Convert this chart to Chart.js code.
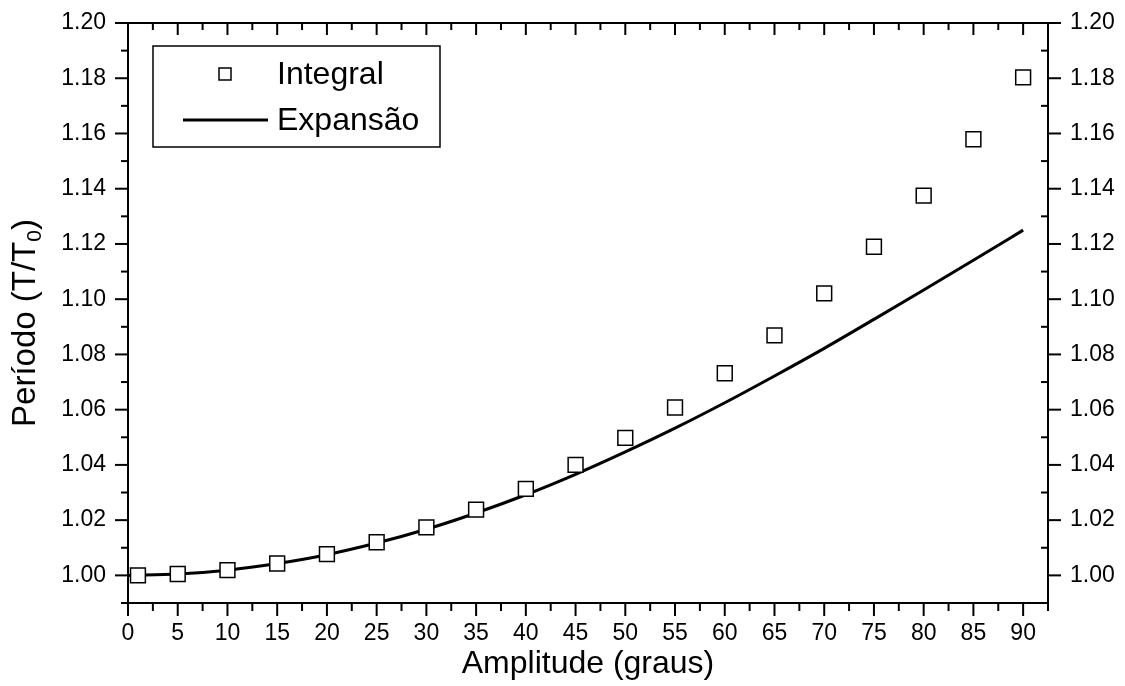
<!DOCTYPE html>
<html>
<head>
<meta charset="utf-8">
<script src="https://cdn.jsdelivr.net/npm/chart.js@4.4.1/dist/chart.umd.min.js"></script>
<style>
    html, body { margin: 0; padding: 0; background: #fff; }
    canvas { display: block; }
</style>
</head>
<body>
<canvas id="periodChart" width="1125" height="686"></canvas>
<script>
// valores
const amplitudes = [1, 5, 10, 15, 20, 25, 30, 35, 40, 45, 50, 55, 60, 65, 70, 75, 80, 85, 90];
const integralValues = [1.0000, 1.0005, 1.0019, 1.0043, 1.0077, 1.0120, 1.0174, 1.0238, 1.0313, 1.0400,
    1.0498, 1.0608, 1.0732, 1.0869, 1.1021, 1.1190, 1.1375, 1.1579, 1.1803];

const expansionAngles = [0, 5, 10, 15, 20, 25, 30, 35, 40, 45, 50, 55, 60, 65, 70, 75, 80, 85, 90];
const expansionValues = [1.0000, 1.0005, 1.0019, 1.0043, 1.0075, 1.0117, 1.0167, 1.0226, 1.0292, 1.0366,
    1.0447, 1.0533, 1.0625, 1.0722, 1.0822, 1.0927, 1.1033, 1.1141, 1.1250];

const xTickValues = [0, 5, 10, 15, 20, 25, 30, 35, 40, 45, 50, 55, 60, 65, 70, 75, 80, 85, 90];
const yTickValues = [1.00, 1.02, 1.04, 1.06, 1.08, 1.10, 1.12, 1.14, 1.16, 1.18, 1.20];

const FONT = "'Liberation Sans', Arial, sans-serif";

const toPoints = (xs, ys) => xs.map((v, i) => ({ x: v, y: ys[i] }));

// frame, minor ticks, legend and axis titles
const framePlugin = {
    id: 'framePlugin',
    afterDraw(chart) {
        const { ctx, chartArea: a, scales } = chart;
        const xs = scales.x, ys = scales.y;
        ctx.save();
        ctx.strokeStyle = '#000';
        ctx.fillStyle = '#000';
        ctx.lineWidth = 2;
        ctx.strokeRect(a.left, a.top, a.right - a.left, a.bottom - a.top);

        const line = (x1, y1, x2, y2) => {
            ctx.beginPath(); ctx.moveTo(x1, y1); ctx.lineTo(x2, y2); ctx.stroke();
        };

        const xMinor = xTickValues.map(v => v + 2.5).filter(v => v <= xs.max + 1e-6);
        const yMinor = yTickValues.map(v => v - 0.01).filter(v => v >= ys.min - 1e-6);

        xTickValues.forEach(v => {
            const px = xs.getPixelForValue(v);
            line(px, a.bottom, px, a.bottom + 13);
            line(px, a.top, px, a.top + 12);
        });
        xMinor.forEach(v => {
            const px = xs.getPixelForValue(v);
            line(px, a.bottom, px, a.bottom + 8);
            line(px, a.top, px, a.top + 7);
        });
        yTickValues.forEach(v => {
            const py = ys.getPixelForValue(v);
            line(a.left - 13, py, a.left, py);
            line(a.right, py, a.right + 13, py);
        });
        yMinor.forEach(v => {
            const py = ys.getPixelForValue(v);
            line(a.left - 7, py, a.left, py);
            line(a.right - 7, py, a.right, py);
        });

        // legenda
        const lx = a.left + 25, ly = a.top + 23;
        ctx.lineWidth = 1.5;
        ctx.strokeRect(lx, ly, 287, 101);
        ctx.fillStyle = '#fff';
        ctx.fillRect(lx + 66, ly + 22, 12, 12);
        ctx.strokeRect(lx + 66, ly + 22, 12, 12);
        ctx.lineWidth = 3;
        line(lx + 30, ly + 74, lx + 115, ly + 74);
        ctx.fillStyle = '#000';
        ctx.font = `32px ${FONT}`;
        ctx.textBaseline = 'middle';
        ctx.textAlign = 'left';
        ctx.fillText(chart.data.datasets[0].label, lx + 124, ly + 29);
        ctx.fillText(chart.data.datasets[1].label, lx + 124, ly + 75);

        // titulo eixo x
        ctx.font = `32px ${FONT}`;
        ctx.textAlign = 'center';
        ctx.fillText('Amplitude (graus)', (a.left + a.right) / 2, 664);

        // titulo eixo y com subscrito
        ctx.save();
        ctx.translate(26, (a.top + a.bottom) / 2 + 10);
        ctx.rotate(-Math.PI / 2);
        ctx.textAlign = 'left';
        const main = 'Período (T/T', sub = '0', tail = ')';
        ctx.font = `33px ${FONT}`;
        const wMain = ctx.measureText(main).width;
        const wTail = ctx.measureText(tail).width;
        ctx.font = `21px ${FONT}`;
        const wSub = ctx.measureText(sub).width;
        let pos = -(wMain + wSub + wTail) / 2;
        ctx.font = `33px ${FONT}`;
        ctx.fillText(main, pos, 0);
        pos += wMain;
        ctx.font = `21px ${FONT}`;
        ctx.fillText(sub, pos, 9);
        pos += wSub;
        ctx.font = `33px ${FONT}`;
        ctx.fillText(tail, pos, 0);
        ctx.restore();

        ctx.restore();
    }
};

const yTickSetup = (scale) => {
    scale.ticks = yTickValues.map(v => ({ value: v }));
};

new Chart(document.getElementById('periodChart').getContext('2d'), {
    type: 'scatter',
    data: {
        datasets: [
            {
                label: 'Integral',
                data: toPoints(amplitudes, integralValues),
                pointStyle: 'rect',
                pointRadius: 10.5,
                borderWidth: 1.5,
                borderColor: '#000',
                backgroundColor: '#fff',
                showLine: false,
            },
            {
                label: 'Expansão',
                data: toPoints(expansionAngles, expansionValues),
                showLine: true,
                pointRadius: 0,
                borderColor: '#000',
                borderWidth: 3,
                cubicInterpolationMode: 'monotone',
            }
        ]
    },
    options: {
        responsive: false,
        animation: false,
        devicePixelRatio: 1,
        layout: { padding: { top: 23, left: 0, right: 0, bottom: 0 } },
        plugins: {
            legend: { display: false },
            tooltip: { enabled: false }
        },
        scales: {
            x: {
                type: 'linear',
                min: 0,
                max: 92.5,
                afterBuildTicks: (scale) => { scale.ticks = xTickValues.map(v => ({ value: v })); },
                afterFit: (scale) => { scale.height = 83; },
                grid: { display: false, drawTicks: true, tickLength: 13 },
                border: { display: false },
                ticks: {
                    padding: 4,
                    color: '#000',
                    maxRotation: 0,
                    autoSkip: false,
                    font: { family: FONT, size: 23 },
                    callback: (v) => String(v)
                }
            },
            y: {
                type: 'linear',
                position: 'left',
                min: 0.99,
                max: 1.20,
                afterBuildTicks: yTickSetup,
                afterFit: (scale) => { scale.width = 128; },
                grid: { display: false, drawTicks: true, tickLength: 13 },
                border: { display: false },
                ticks: {
                    padding: 9,
                    color: '#000',
                    autoSkip: false,
                    font: { family: FONT, size: 23 },
                    callback: (v) => Number(v).toFixed(2)
                }
            },
            y2: {
                type: 'linear',
                position: 'right',
                min: 0.99,
                max: 1.20,
                afterBuildTicks: yTickSetup,
                afterFit: (scale) => { scale.width = 77; },
                grid: { display: false, drawTicks: true, tickLength: 13 },
                border: { display: false },
                ticks: {
                    padding: 9,
                    color: '#000',
                    autoSkip: false,
                    font: { family: FONT, size: 23 },
                    callback: (v) => Number(v).toFixed(2)
                }
            }
        }
    },
    plugins: [framePlugin]
});
</script>
</body>
</html>
